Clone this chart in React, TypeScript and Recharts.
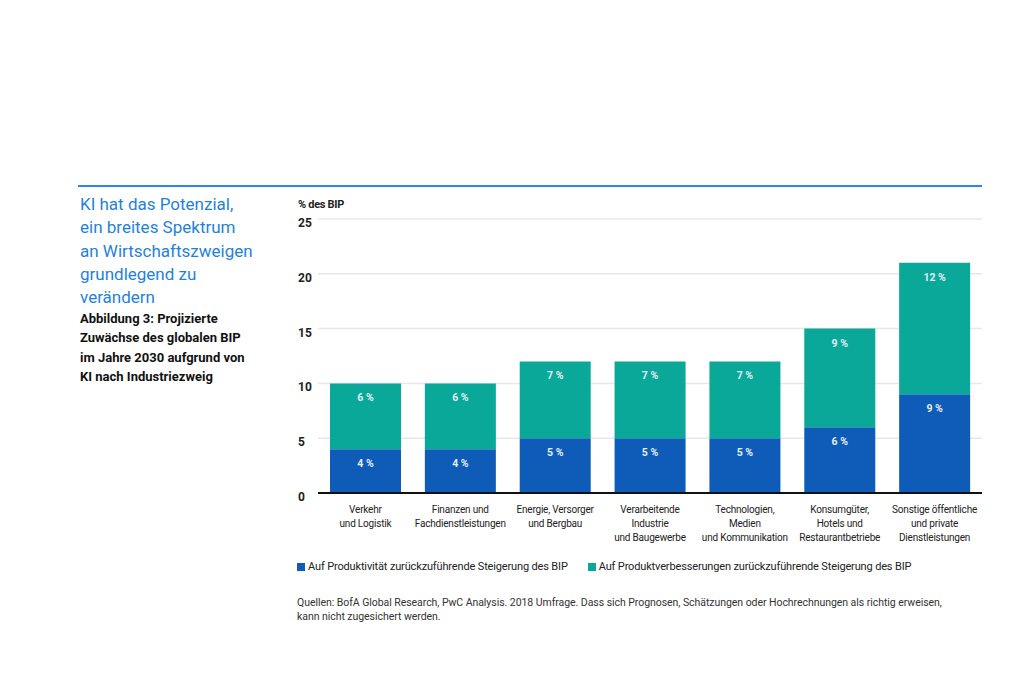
import React from "react";
import { BarChart, Bar, XAxis, YAxis, CartesianGrid, LabelList } from "recharts";

const categories = [
  "Verkehr\nund Logistik",
  "Finanzen und\nFachdienstleistungen",
  "Energie, Versorger\nund Bergbau",
  "Verarbeitende\nIndustrie\nund Baugewerbe",
  "Technologien,\nMedien\nund Kommunikation",
  "Konsumgüter,\nHotels und\nRestaurantbetriebe",
  "Sonstige öffentliche\nund private\nDienstleistungen",
];
const produktivitaet = [4, 4, 5, 5, 5, 6, 9];
const produktverbesserung = [6, 6, 7, 7, 7, 9, 12];
const yTicks = [0, 5, 10, 15, 20, 25];

const titleLines = [
  "KI hat das Potenzial,",
  "ein breites Spektrum",
  "an Wirtschaftszweigen",
  "grundlegend zu",
  "verändern",
];
const subtitleLines = [
  "Abbildung 3: Projizierte",
  "Zuwächse des globalen BIP",
  "im Jahre 2030 aufgrund von",
  "KI nach Industriezweig",
];
const legendItems = [
  "Auf Produktivität zurückzuführende Steigerung des BIP",
  "Auf Produktverbesserungen zurückzuführende Steigerung des BIP",
];

const BLUE = "#0e5cb8";
const TEAL = "#0aa898";
const NARROW = "Roboto, sans-serif";

const data = categories.map((name, i) => ({
  name,
  prod: produktivitaet[i],
  verb: produktverbesserung[i],
}));

const XTick = (props: any) => {
  const { x, y, payload } = props;
  const lines = String(payload.value).split("\n");
  return (
    <text x={x} y={y + 12} textAnchor="middle" fill="#222" fontSize={10} letterSpacing={-0.2} fontFamily={NARROW}>
      {lines.map((l, i) => (
        <tspan key={i} x={x} dy={i === 0 ? 0 : 14}>
          {l}
        </tspan>
      ))}
    </text>
  );
};

const YTick = (props: any) => {
  const { y, payload } = props;
  return (
    <text x={48} y={y + 8} textAnchor="start" fill="#222" fontSize={12} fontWeight={700} fontFamily={NARROW}>
      {payload.value}
    </text>
  );
};

const SegLabel = (props: any) => {
  const { x, y, width, value } = props;
  return (
    <text
      x={x + width / 2}
      y={y + 18}
      textAnchor="middle"
      fill="#e4eef6"
      fontSize={10.5}
      fontWeight={700}
      fontFamily={NARROW}
    >
      {value} %
    </text>
  );
};

export default function App() {
  return (
    <div style={{ position: "absolute", left: 0, top: 0, width: 1024, height: 683, background: "#fff", overflow: "hidden" }}>
      <div style={{ position: "absolute", left: 78, top: 185, width: 904, height: 2, background: "#2a8ae2" }} />
      <div style={{ position: "absolute", left: 80, top: 193, fontFamily: "Roboto, sans-serif", fontSize: 17, lineHeight: "23.3px", color: "#1f82da" }}>
        {titleLines.map((l) => (
          <div key={l}>{l}</div>
        ))}
      </div>
      <div style={{ position: "absolute", left: 80, top: 309, fontFamily: "Roboto, sans-serif", fontSize: 13, fontWeight: 700, lineHeight: "19.3px", color: "#111" }}>
        {subtitleLines.map((l) => (
          <div key={l}>{l}</div>
        ))}
      </div>
      <div style={{ position: "absolute", left: 298, top: 198, fontFamily: NARROW, fontSize: 11, fontWeight: 700, letterSpacing: -0.3, color: "#222" }}>
        % des BIP
      </div>
      <div style={{ position: "absolute", left: 250, top: 200 }}>
        <BarChart
          width={740}
          height={360}
          data={data}
          margin={{ top: 19, right: 8, bottom: 7, left: 20 }}
          barSize={71}
        >
          <CartesianGrid vertical={false} stroke="#e8e8e8" strokeWidth={1.5} />
          <XAxis
            dataKey="name"
            interval={0}
            height={60}
            tickLine={false}
            axisLine={{ stroke: "#111", strokeWidth: 2 }}
            tick={<XTick />}
          />
          <YAxis
            width={48}
            domain={[0, 25]}
            ticks={yTicks}
            axisLine={false}
            tickLine={false}
            tick={<YTick />}
          />
          <Bar dataKey="prod" stackId="a" fill={BLUE} isAnimationActive={false}>
            <LabelList dataKey="prod" content={<SegLabel />} />
          </Bar>
          <Bar dataKey="verb" stackId="a" fill={TEAL} isAnimationActive={false}>
            <LabelList dataKey="verb" content={<SegLabel />} />
          </Bar>
        </BarChart>
      </div>
      <div style={{ position: "absolute", left: 297, top: 560, display: "flex", whiteSpace: "nowrap", fontFamily: NARROW, fontSize: 11, letterSpacing: -0.15, color: "#222" }}>
        {legendItems.map((t, i) => (
          <div key={t} style={{ display: "flex", alignItems: "center", marginRight: 20 }}>
            <span style={{ width: 8, height: 8, background: i === 0 ? BLUE : TEAL, marginRight: 3, display: "inline-block" }} />
            {t}
          </div>
        ))}
      </div>
      <div style={{ position: "absolute", left: 297, top: 596, whiteSpace: "nowrap", fontFamily: NARROW, fontSize: 10.5, letterSpacing: -0.05, lineHeight: "14px", color: "#333" }}>
        Quellen: BofA Global Research, PwC Analysis. 2018 Umfrage. Dass sich Prognosen, Schätzungen oder Hochrechnungen als richtig erweisen,
        <br />
        kann nicht zugesichert werden.
      </div>
    </div>
  );
}
